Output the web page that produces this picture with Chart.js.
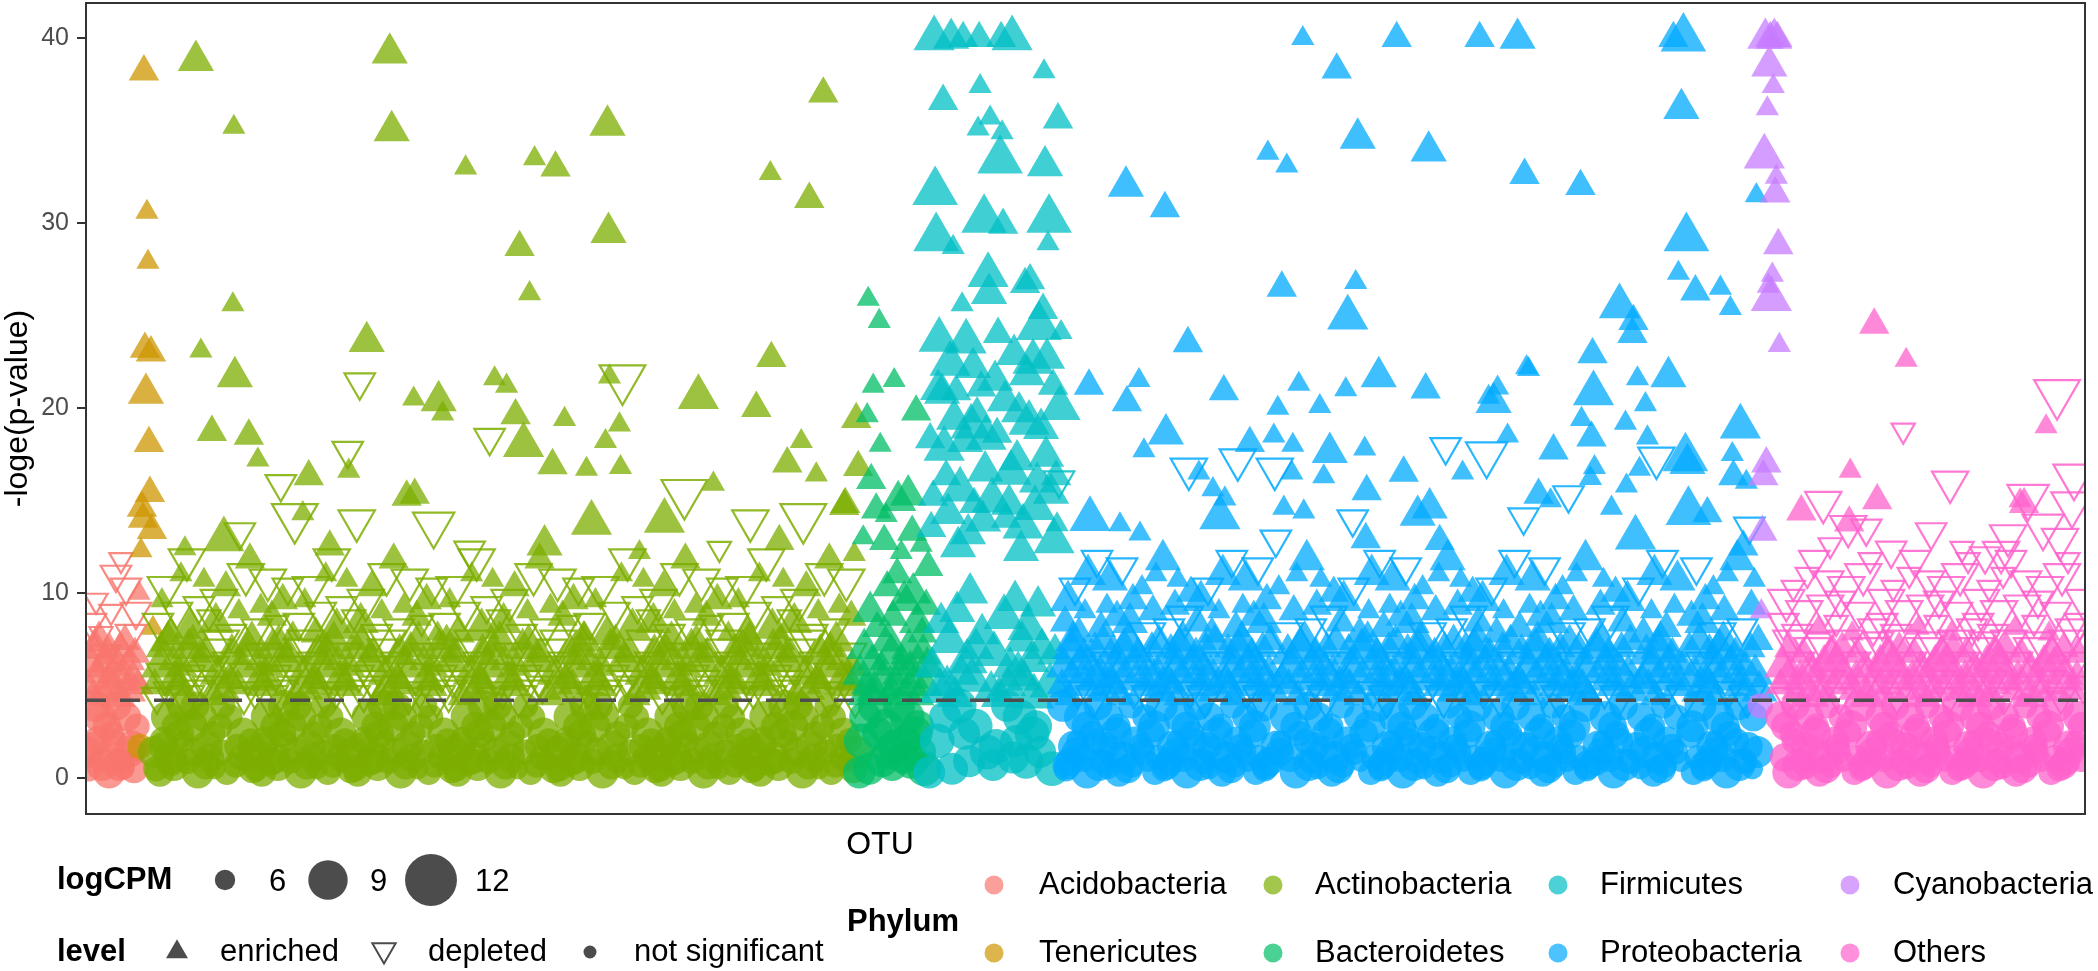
<!DOCTYPE html>
<html><head><meta charset="utf-8">
<script src="https://cdn.jsdelivr.net/npm/chart.js@4.4.1/dist/chart.umd.min.js"></script>
<style>html,body{margin:0;padding:0;background:#fff;}canvas{display:block;}</style>
</head><body>
<canvas id="chart" width="2098" height="971"></canvas>
<script>
// ---------------- DATA ----------------
const phyla = ["Acidobacteria","Tenericutes","Actinobacteria","Bacteroidetes","Firmicutes","Proteobacteria","Cyanobacteria","Others"];
const phylumFirstOtu = [0, 53, 67, 773, 843, 976, 1675, 1695];   // OTU order index where each phylum starts
const otuTotal = 2000;
const threshold = 4.2;                  // -loge(p) significance line
const yTicks = [0, 10, 20, 30, 40];
const cpmLevels = [5.6, 6.1, 6.6, 7.1, 7.6, 8.1, 8.6, 9.1, 10, 11];   // logCPM classes
const logCpmBreaks = [6, 9, 12];
const levelLabels = ["enriched", "depleted", "not significant"];
const xTitle = "OTU";
const yTitle = "-loge(p-value)";

// -loge(p) classes: the code char at position k of valueCodes stands for valueLevels[k]
const valueCodes  = "07193b5a2c486fjdlhekmgiqunxrvozpwsyt";
const valueLevels = [0.1, 0.3, 0.5, 0.7, 0.9, 1.1, 1.4, 1.7, 2.0, 2.4, 2.8, 3.3, 3.9,
                     4.4, 4.7, 5.0, 5.3, 5.6, 6.0, 6.3, 6.7, 7.0, 7.4,
                     7.8, 8.1, 8.4, 8.7, 9.0, 9.3, 9.6, 10.0, 10.3, 10.7, 11.0, 11.4, 11.8];

// OTU records, 2 chars each: [-loge(p) class] [attribute: 0-9 not significant, a-j enriched, k-t depleted; digit/offset = logCPM class]
const acidoBase = `54db12ecnl a3fb64gcok 23hbic84qk 94jbb3kcml 43lb74mcrk c2dc22ebsl 63fc94gbtk 32hc11ibpl 83jc54kbql a4lc13mbrl 42dbza`;
const teneriBase = `a2ua`;
const actinoBase = `
54db12flnl ec73gboaa3 23hmpm84ic jlb4qb33kb 94lc43rlmm
dcc3saeb64 21fmtm32gc hluc44ib53 63jm74vlkc ll83wamb93
a4dlxkb3em c2fb11ncgl hcom42im52 62jbpb72kl lb82qlmc92
a2dbrab2ec c4fl31smgb hmtb22ic13 54jl12ulkb lcva73mma3
23dc84wmeb fm33xbgcb4 43hlnk94ib jmc3ob64kc ll21plmb32
44dlqaem53 fb63nlgl74 83hcoaim93 jba4pmb3kl c2lbqb11mc
db42rl52ec 62flsagb72 hm82tm92ic a2jluckbb2 lcc4vl31mm
22dcwaeb13 fm54xkgc12 73hlnciba3 jm23om84kc 33llpbmbb4
dl43ql94em c3fbragl64 21hcsmim32 jb44tb53kl 63lbulmc74
db83vaec93 a4flwmgbb3 c2hmxb11ic jl42nk52kb 62lcobmm72
dc82pleb92 a2fmqagcb2 hlc4nl31ib 22jmoakc13 ll54pmmb12
73dlqbema3 fb23rl84gl 33hcsaimb4 jb43tm94kl c3lbucmc64
db21vlec32 44flwagb53 hm63xkic74 83jlnckb93 lca4omb3mm
c2dcpbeb11 fm42qlgc52 62hlraib72 jm82smkc92 a2lltbmbb2
dlc4ul31em 22fbvagl13 hc54wmim12 73jbxbkla3 lb23nk84mc
33dbobecb4 fl43pl94gb c3hmqaic64 21jlnlkb32 lc44oamm53
63dcpmeb74 fm83qbgc93 a4hlrlibb3 c2jmsakc11 ll42tmmb52
62dlucem72 fb82vlgl92 a2hcwaimb2 jbc4xk31kl 22lbncmc13
db54omec12 73flpbgba3 hm23ql84ic 33jlrakbb4 lc43sm94mm
c3dctbeb64 21fmulgc32 hl44vaib53 63jmwmkc74 ll83xbmb93
a4dlnkb3em c2fbob11gl hcpl42im52 62jbqa72kl lb82nlmc92
a2dboab2ec c4fl31pmgb hmqb22ic13 54jl12rlkb lcsa73mma3
23dc84tmeb fm33ucgcb4 43hlvl94ib jmc3wa64kc ll21xkmb32
44dlncem53 fb63omgl74 83hcpbim93 jba4qlb3kl c2lbra11mc
db42sm52ec 62fltbgb72 hm82ul92ic a2jlvakbb2 lcc4wm31mm
22dcxbeb13 fm54nkgc12`;
const bacteroBase = `74hc25fbgc 84db14rckb jc65ubc4eb 34lc45pbic fb55mc94xb a5dcsb64hc kbb4oc24jb 85gceb35zc lbc5nc44fb 54qbmc15dc vbecyb`;
const firmiBase = `74ec25jdnc 84dcid14fc rc65hcc4kd 34zcld45gc qc55jc94md a5fcxd64dc ecb4oc24hd 85iclc35ud kcc5fd44vc 54gcdd15mc`;
const proteoBase = `
db64ecnb12 93ocfb33gc hbica4pl53 21jlqb84kb lcb3mbra43
74scdcc2eb fmgb22tl63 94hcub32ib jca3klva11 83wclb54mc
dbecc4xb42 73fbylb4gc hb13icnc62 92objl23kb lcmba2pa52
82dcqm31eb fmc3gbrb44 72sahcb2ib jckl64tc12 93lbul33mc
dba4ecvb53 21wafb84gc hbicb3xm43 74jlzbc2kb lc22mbnb63
94ocdc32eb fmgba3pl11 83hcqb54ib jcc4klra42 73sclbb4mc
dbec13tl62 92fbub23gc hba2icva52 82wcjl31kb lcmbc3xb44
72dcylb2eb fm64gbnc12 93obhc33ib jckla4pa53 21lbqm84mc
dbb3ecrb43 74safbc2gc hbic22tc63 94jlul32kb lca3mbvb11
83wadc54eb fmgbc4xm42 73hczbb4ib jc13klnb62 92oclb23mc
dbeca2pl52 82fbqb31gc hbc3icra44 72scjlb2kb lcmb64tl12
93dcub33eb fma4gbva53 21wchc84ib jcklb3xb43 74lbylc2mc
db22ecnc63 94obfb32gc hbica3pa11 83jlqm54kb lcc4mbrb42
73sadcb4eb fmgb13tc62 92hcul23ib jca2klvb52 82walb31mc
dbecc3xm44 72fbzbb2gc hb64icnb12 93ocjl33kb lcmba4pl53
21dcqb84eb fmb3gbra43 74schcc2ib jckl22tl63 94lbub32mc
dba3ecva11 83wcfb54gc hbicc4xb42 73jlylb4kb lc13mbnc62
92obdc23eb fmgba2pa52 82hcqm31ib jcc3klrb44 72salbb2mc
dbec64tc12 93fbul33gc hba4icvb53 21wajl84kb lcmbb3xm43
74dczbc2eb fm22gbnb63 94ochc32ib jckla3pl11 83lbqb54mc
dbc4ecra42 73scfbb4gc hbic13tl62 92jlub23kb lca2mbva52
82wcdc31eb fmgbc3xb44 72hcylb2ib jc64klnc12 93oblb33mc
dbeca4pa53 21fbqm84gc hbb3icrb43 74sajlc2kb lcmb22tc63
94dcul32eb fma3gbvb11 83wahc54ib jcklc4xm42`;
const cyanoBase = `62ra`;
const othersBase = `
db84ecnlb3 43omfl74gb hcimc2pk22 63jbql94kl lc32mbrma3
11skdl83eb fcgm54tlc4 42hbua73il jcb4kbvm13 62wlll92mc
dbec23nka2 52flol82gb hc31impmc3 44qajb72kl lcmbb2rl64
12dlsm93eb fc33gmtka4 53ulhb21il jckb84nlb3 43llom74mc
dbc2ecpk22 63qlfl94gb hcim32rma3 11jbsk83kl lc54mbtlc4
42uadl73eb fcgmb4vm13 62hbwl92il jc23kbnka2 52olll82mc
dbec31pmc3 44flqa72gb hcb2imrl64 12smjb93kl lcmb33tka4
53dlul21eb fc84gmnlb3 43omhb74il jckbc2pk22 63llql94mc
db32ecrma3 11skfl83gb hcim54tlc4 42jbua73kl lcb4mbvm13
62wldl92eb fcgm23nka2 52hbol82il jc31kbpmc3 44qall72mc
dbecb2rl64 12flsm93gb hc33imtka4 53uljb21kl lcmb84nlb3
43dlom74eb`;

// strongly significant OTUs: "otuIndex:-loge(p):attribute"
const acidoHigh = ``;
const teneriHigh = `54:12.3:a 55:14.6:b 56:14.0:b 57:38.2:b 58:23.2:b 59:20.8:c 60:30.6:a 61:27.9:a 62:18.1:b 63:15.4:b 64:23.0:b 65:13.4:b`;
const actinoHigh = `109:38.8:c 303:39.2:c 305:35.0:c 147:35.2:a 737:37.0:b 521:35.3:c 379:33.0:a 448:33.5:a 469:33.0:b 684:32.7:a
723:31.3:b 522:29.5:c 433:28.7:b 443:26.2:a 146:25.6:a 280:23.6:c 114:23.1:a 148:21.7:c 685:22.7:b 273:21.4:l
536:21.6:o 523:21.7:a 612:20.6:d 408:21.6:a 420:21.2:a 327:20.5:a 352:20.4:c 356:19.7:a 670:20.0:b 125:18.7:b
162:18.5:b 429:19.6:b 437:18.0:d 478:19.4:a 533:19.1:a 519:18.2:a 403:18.4:l 171:17.2:a 261:17.7:l 262:16.6:a
222:16.3:b 466:16.9:b 500:16.7:a 534:16.8:a 701:17.0:b 715:18.2:a 730:16.4:a 194:15.9:l 627:15.9:a 598:15.4:o
320:15.2:b 328:15.3:b 208:14.1:o 216:14.3:a 270:13.9:m 347:13.7:n 137:12.9:d 664:13.9:m 717:14.1:o 758:14.7:b
578:13.9:d 505:13.8:d 98:12.4:a 153:13.3:l 243:12.5:b 383:12.3:l 458:12.6:c 553:12.2:a 633:12.4:k 693:12.8:b
768:12.1:a 770:19.4:b 772:16.8:b 759:14.8:b`;
const bacteroHigh = `782:25.9:a 793:24.7:a 787:21.2:a 808:21.5:a 781:19.6:a 830:19.8:b 794:18.0:a 785:16.1:b 812:15.0:c 822:15.3:c
790:14.5:b 800:14.2:a 826:13.3:b 835:12.6:a 798:12.8:b 815:12.2:a 777:13.0:a`;
const firmiHigh = `848:40:d 865:40:c 877:40:b 893:40:b 915:40:b 926:40:d 958:38.2:a 894:37.4:a 857:36.6:b 904:35.7:a
972:35.6:b 892:35.1:a 916:34.9:a 914:33.4:e 959:33.1:c 849:31.7:e 898:30.2:e 917:29.9:b 963:30.2:e 850:29.2:e
867:28.7:a 962:28.9:a 902:27.2:d 903:26.2:c 939:26.7:b 944:26.9:b 876:25.6:a 853:23.7:d 880:23.6:d 953:24.4:e
975:24.1:a 864:22.4:d 887:22.2:c 909:21.5:c 947:22.5:d 961:22.7:c 856:20.8:c 919:20.4:c 974:20.0:d 868:19.4:c
891:19.7:b 943:19.2:d 844:18.3:b 879:18.2:c 911:18.6:b 931:17.2:c 960:17.4:c 860:16.3:b 899:16.6:c 951:16.0:c
970:16.3:b 973:16.1:l 847:15.2:b 923:14.8:c 888:14.8:b 971:13.7:a 845:13.5:b 872:12.5:c 920:14.0:b 935:12.3:c
852:21.0:c 858:17.8:d 862:14.3:c 870:20.9:b 874:15.6:d 882:13.2:c 885:19.0:d 895:21.1:b 897:13.9:c 900:18.4:d
906:15.0:d 912:24.0:b 925:16.5:d 928:22.9:c 933:19.8:c 937:13.6:d 941:21.8:c 949:14.6:d 955:18.9:c 957:25.3:b
965:15.4:c 967:21.2:b 968:12.8:d`;
const proteoHigh = `1217:40:a 1311:40:b 1251:38.3:b 1272:34.6:c 1343:33.9:c 1182:33.8:a 1201:33.1:a 1040:32.0:c 1079:30.8:b 1196:26.5:b
1270:26.8:a 1262:24.9:d 1102:23.5:b 1293:21.7:c 1003:21.2:b 1053:21.5:a 1041:20.3:b 1213:21.3:a 1138:20.9:b 1260:21.0:a
1340:21.0:b 1192:20.0:a 1234:20.1:a 1080:18.6:c 1058:17.7:a 1164:18.1:b 1188:18.5:a 1207:18.0:a 1244:17.6:c 1279:17.8:a
1360:17.9:l 1318:16.5:b 1103:16.7:m 1113:16.5:a 1152:17.2:m 1189:16.7:m 1206:16.5:a 1238:16.3:a 1127:15.6:a 1281:15.5:b
1139:15.1:a 1267:14.0:l 1332:14.2:c 1344:14.6:c 1004:14.0:d 1134:14.1:d 1034:13.7:a 1198:14.6:a 1218:14.4:a 1054:13.2:a
1190:12.9:l 1280:12.9:b 1354:12.8:b 1394:40:b 1432:40:c 1588:40:b 1598:40:e 1596:36.2:c 1439:32.6:b 1495:32.0:b
1671:31.5:a 1601:29.2:e 1593:27.3:a 1610:26.3:b 1635:26.5:a 1645:25.4:a 1534:25.5:d 1548:24.7:b 1547:24.0:b 1507:22.9:b
1441:22.2:a 1443:22.1:a 1583:21.7:c 1552:21.6:a 1508:20.8:d 1403:20.6:a 1412:21.1:a 1408:20.3:c 1560:20.2:a 1496:19.4:a
1540:19.2:a 1655:19.0:d 1422:18.5:a 1506:18.4:b 1562:18.4:a 1468:17.7:b 1600:17.3:e 1602:17.0:c 1571:17.3:m 1401:17.5:n
1647:17.5:a 1648:16.3:b 1509:16.8:a 1505:16.2:a 1554:16.7:a 1377:16.5:a 1541:15.8:a 1661:16.0:a 1483:15.3:l 1453:15.3:b
1465:15.0:a 1438:14.1:l 1603:14.4:e 1622:14.3:b 1526:14.6:a 1550:13.0:d 1664:13.6:l 1658:12.5:b`;
const cyanoHigh = `1680:40:c 1689:40:c 1692:40:b 1685:40:b 1684:38.5:c 1688:37.4:a 1682:36.2:a 1679:33.6:d 1691:32.5:a 1690:31.6:b
1693:28.8:b 1687:27.2:a 1683:26.6:a 1686:25.9:d 1694:23.4:a 1681:17.0:b 1678:16.3:b 1677:13.3:b`;
const othersHigh = `1789:24.5:b 1821:22.6:a 1972:20.8:o 1961:19.0:a 1818:18.8:k 1765:16.6:a 1865:16.0:m 1792:15.0:b 1738:14.9:m 1716:14.4:b
1764:13.8:b 1763:13.6:m 1781:13.5:l 1939:14.8:b 1943:15.2:n 1989:16.3:n 1987:14.8:n 1846:13.3:l 1958:13.6:n 1923:13.1:m
1916:12.2:m 1935:15.0:a 1877:12.4:k 1900:12.0:l 1806:12.3:l 1745:12.6:k 1975:12.9:m`;

const baseRecords = [acidoBase, teneriBase, actinoBase, bacteroBase, firmiBase, proteoBase, cyanoBase, othersBase];
const highRecords = [acidoHigh, teneriHigh, actinoHigh, bacteroHigh, firmiHigh, proteoHigh, cyanoHigh, othersHigh];

// ---------------- STYLE ----------------
const phylumColors = ["#F8766D","#CD9600","#7CAE00","#00BE67","#00BFC4","#00A9FF","#C77CFF","#FF61CC"];
const FONT = "'Liberation Sans', Arial, Helvetica, sans-serif";
const POINT_ALPHA = 0.75;

function rgba(hex, a) {
  const n = parseInt(hex.slice(1), 16);
  return `rgba(${(n >> 16) & 255},${(n >> 8) & 255},${n & 255},${a})`;
}
function decodeAttr(c) {
  const code = c.charCodeAt(0);
  if (code >= 48 && code <= 57) return { lvl: 'n', cpm: cpmLevels[code - 48] };
  const k = code - 97;
  return k < 10 ? { lvl: 'e', cpm: cpmLevels[k] } : { lvl: 'd', cpm: cpmLevels[k - 10] };
}
function decodePhylum(p) {
  const start = phylumFirstOtu[p];
  const end = p + 1 < phyla.length ? phylumFirstOtu[p + 1] : otuTotal;
  const hi = new Map();
  highRecords[p].split(/\s+/).filter(Boolean).forEach(tok => {
    const [i, v, a] = tok.split(':');
    hi.set(+i, Object.assign({ y: +v }, decodeAttr(a)));
  });
  const base = [];
  baseRecords[p].split(/\s+/).filter(Boolean).forEach(g => {
    for (let k = 0; k + 1 < g.length; k += 2)
      base.push(Object.assign({ y: valueLevels[valueCodes.indexOf(g[k])] }, decodeAttr(g[k + 1])));
  });
  const pts = [];
  let b = 0;
  for (let i = start; i < end; i++) {
    let d = hi.get(i);
    if (!d) { if (b >= base.length) continue; d = base[b++]; }
    pts.push({ x: i, y: d.y, lvl: d.lvl, cpm: d.cpm });
  }
  return pts;
}
// circle radius (px) from logCPM, area-proportional
const circleR = L => Math.sqrt(9 + 95 * Math.max(0, L - 5));
const TRI = 1.65; // triangle circumradius relative to circle radius

const datasets = phyla.map((name, p) => {
  const col = phylumColors[p];
  return {
    label: name,
    data: decodePhylum(p),
    order: phyla.length - p,
    clip: 0,
    pointStyle: ctx => ctx.raw && ctx.raw.lvl === 'n' ? 'circle' : 'triangle',
    pointRotation: ctx => ctx.raw && ctx.raw.lvl === 'd' ? 180 : 0,
    pointRadius: ctx => { const d = ctx.raw; if (!d) return 0; const r = circleR(d.cpm); return d.lvl === 'n' ? r : r * TRI; },
    pointBackgroundColor: ctx => ctx.raw && ctx.raw.lvl === 'd' ? 'rgba(0,0,0,0)' : rgba(col, POINT_ALPHA),
    pointBorderColor: ctx => ctx.raw && ctx.raw.lvl === 'd' ? rgba(col, 0.85) : 'rgba(0,0,0,0)',
    pointBorderWidth: ctx => ctx.raw && ctx.raw.lvl === 'd' ? 2.2 : 0
  };
});

function triPath(ctx, cx, cy, R, down) {
  const s = down ? -1 : 1;
  ctx.beginPath();
  ctx.moveTo(cx, cy - s * R);
  ctx.lineTo(cx + R * 0.866, cy + s * R / 2);
  ctx.lineTo(cx - R * 0.866, cy + s * R / 2);
  ctx.closePath();
}

const decor = {
  id: 'decor',
  afterDatasetsDraw(chart) {
    const { ctx, chartArea: a, scales: { y } } = chart;
    ctx.save();
    const ty = y.getPixelForValue(threshold);
    ctx.strokeStyle = '#4D4D4D';
    ctx.lineWidth = 3.5;
    ctx.setLineDash([20, 14]);
    ctx.beginPath(); ctx.moveTo(a.left, ty); ctx.lineTo(a.right, ty); ctx.stroke();
    ctx.setLineDash([]);
    ctx.strokeStyle = '#333333';
    ctx.lineWidth = 2;
    ctx.strokeRect(a.left, a.top, a.right - a.left, a.bottom - a.top);
    ctx.restore();
  },
  afterDraw(chart) {
    const { ctx, chartArea: a } = chart;
    ctx.save();
    ctx.textBaseline = 'middle';
    ctx.fillStyle = '#000';
    ctx.save();
    ctx.translate(18, (a.top + a.bottom) / 2);
    ctx.rotate(-Math.PI / 2);
    ctx.textAlign = 'center';
    ctx.font = `32px ${FONT}`;
    ctx.fillText(yTitle, 0, 0);
    ctx.restore();
    ctx.textAlign = 'center';
    ctx.font = `32px ${FONT}`;
    ctx.fillText(xTitle, 880, 845);

    const keyCol = 'rgba(0,0,0,0.7)';
    ctx.textAlign = 'left';
    ctx.font = `bold 31px ${FONT}`;
    ctx.fillText('logCPM', 57, 880);
    const keyX = [225, 328, 431], labX = [269, 370, 475];
    ctx.font = `31px ${FONT}`;
    logCpmBreaks.forEach((v, i) => {
      ctx.fillStyle = keyCol;
      ctx.beginPath(); ctx.arc(keyX[i], 880, circleR(v), 0, Math.PI * 2); ctx.fill();
      ctx.fillStyle = '#000';
      ctx.fillText(String(v), labX[i], 882);
    });
    ctx.font = `bold 31px ${FONT}`;
    ctx.fillText('level', 57, 952);
    ctx.font = `31px ${FONT}`;
    ctx.fillStyle = keyCol;
    triPath(ctx, 177, 952, 12.7, false); ctx.fill();
    ctx.strokeStyle = keyCol; ctx.lineWidth = 2;
    triPath(ctx, 384, 950, 13.5, true); ctx.stroke();
    ctx.beginPath(); ctx.arc(590, 952, 6.5, 0, Math.PI * 2); ctx.fill();
    ctx.fillStyle = '#000';
    ctx.fillText(levelLabels[0], 220, 952);
    ctx.fillText(levelLabels[1], 428, 952);
    ctx.fillText(levelLabels[2], 634, 952);
    ctx.font = `bold 31px ${FONT}`;
    ctx.fillText('Phylum', 847, 922);
    ctx.font = `31px ${FONT}`;
    const colDot = [994, 1273, 1558, 1850], colLab = [1039, 1315, 1600, 1893], rowY = [885, 953];
    phyla.forEach((name, p) => {
      const c = Math.floor(p / 2), r = p % 2;
      ctx.fillStyle = rgba(phylumColors[p], 0.7);
      ctx.beginPath(); ctx.arc(colDot[c], rowY[r], 9.5, 0, Math.PI * 2); ctx.fill();
      ctx.fillStyle = '#000';
      ctx.fillText(name, colLab[c], rowY[r]);
    });
    ctx.restore();
  }
};

new Chart(document.getElementById('chart'), {
  type: 'scatter',
  data: { datasets },
  options: {
    responsive: false,
    animation: false,
    devicePixelRatio: 1,
    events: [],
    layout: { autoPadding: false, padding: { left: 0, right: 13, top: 3, bottom: 157 } },
    scales: {
      x: { type: 'linear', min: -1, max: otuTotal, display: false },
      y: {
        type: 'linear', min: -1.95, max: 41.91,
        afterBuildTicks: s => { s.ticks = yTicks.map(v => ({ value: v })); },
        afterFit: s => { s.width = 86; s.paddingTop = 0; s.paddingBottom = 0; },
        ticks: { autoSkip: false, color: '#4D4D4D', padding: 8, font: { size: 25, family: FONT } },
        grid: { display: true, drawOnChartArea: false, drawTicks: true, tickLength: 9, color: '#333333', lineWidth: 2 },
        border: { display: false }
      }
    },
    plugins: { legend: { display: false }, tooltip: { enabled: false } }
  },
  plugins: [decor]
});
</script>
</body></html>
